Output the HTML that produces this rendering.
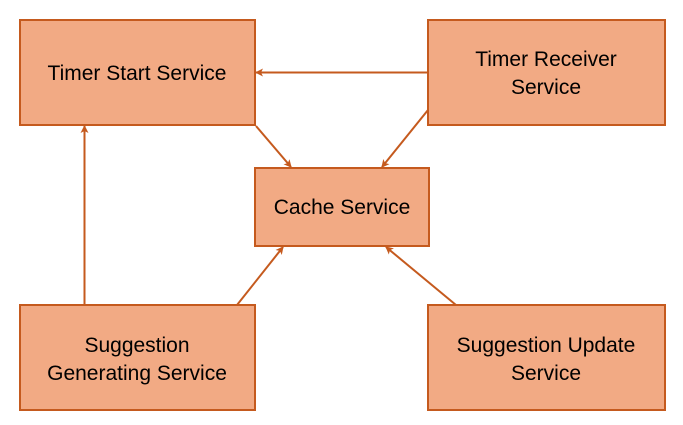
<!DOCTYPE html>
<html><head><meta charset="utf-8"><style>
html,body{margin:0;padding:0;background:#fff;width:683px;height:425px;overflow:hidden}
svg{display:block}
text{font-family:"Liberation Sans",sans-serif;font-size:21px;fill:#000;text-anchor:middle}
</style></head><body>
<svg width="683" height="425" viewBox="0 0 683 425">
<defs><marker id="a" markerWidth="8" markerHeight="8" refX="7" refY="4" orient="auto" markerUnits="userSpaceOnUse"><path d="M0,0 L8,4 L0,8 L2,4 z" fill="#C55A1E"/></marker></defs>
<g fill="#F2AA84" stroke="#C55A1E" stroke-width="2">
<rect x="20" y="20" width="235" height="105"/>
<rect x="428" y="20" width="237" height="105"/>
<rect x="255" y="168" width="174" height="78"/>
<rect x="20" y="305" width="235" height="105"/>
<rect x="428" y="305" width="237" height="105"/>
</g>
<g stroke="#C55A1E" stroke-width="2" fill="none" marker-end="url(#a)">
<line x1="428" y1="72.5" x2="256" y2="72.5"/>
<line x1="256" y1="126" x2="291" y2="167"/>
<line x1="428" y1="110" x2="382" y2="167"/>
<line x1="84.5" y1="305" x2="84.5" y2="126"/>
<line x1="237" y1="305" x2="283" y2="247"/>
<line x1="456" y1="305" x2="386" y2="247"/>
</g>
<text x="137" y="80">Timer Start Service</text>
<text x="546" y="66">Timer Receiver</text>
<text x="546" y="94">Service</text>
<text x="342" y="214">Cache Service</text>
<text x="137" y="352">Suggestion</text>
<text x="137" y="380">Generating Service</text>
<text x="546" y="352">Suggestion Update</text>
<text x="546" y="380">Service</text>
</svg>
</body></html>
